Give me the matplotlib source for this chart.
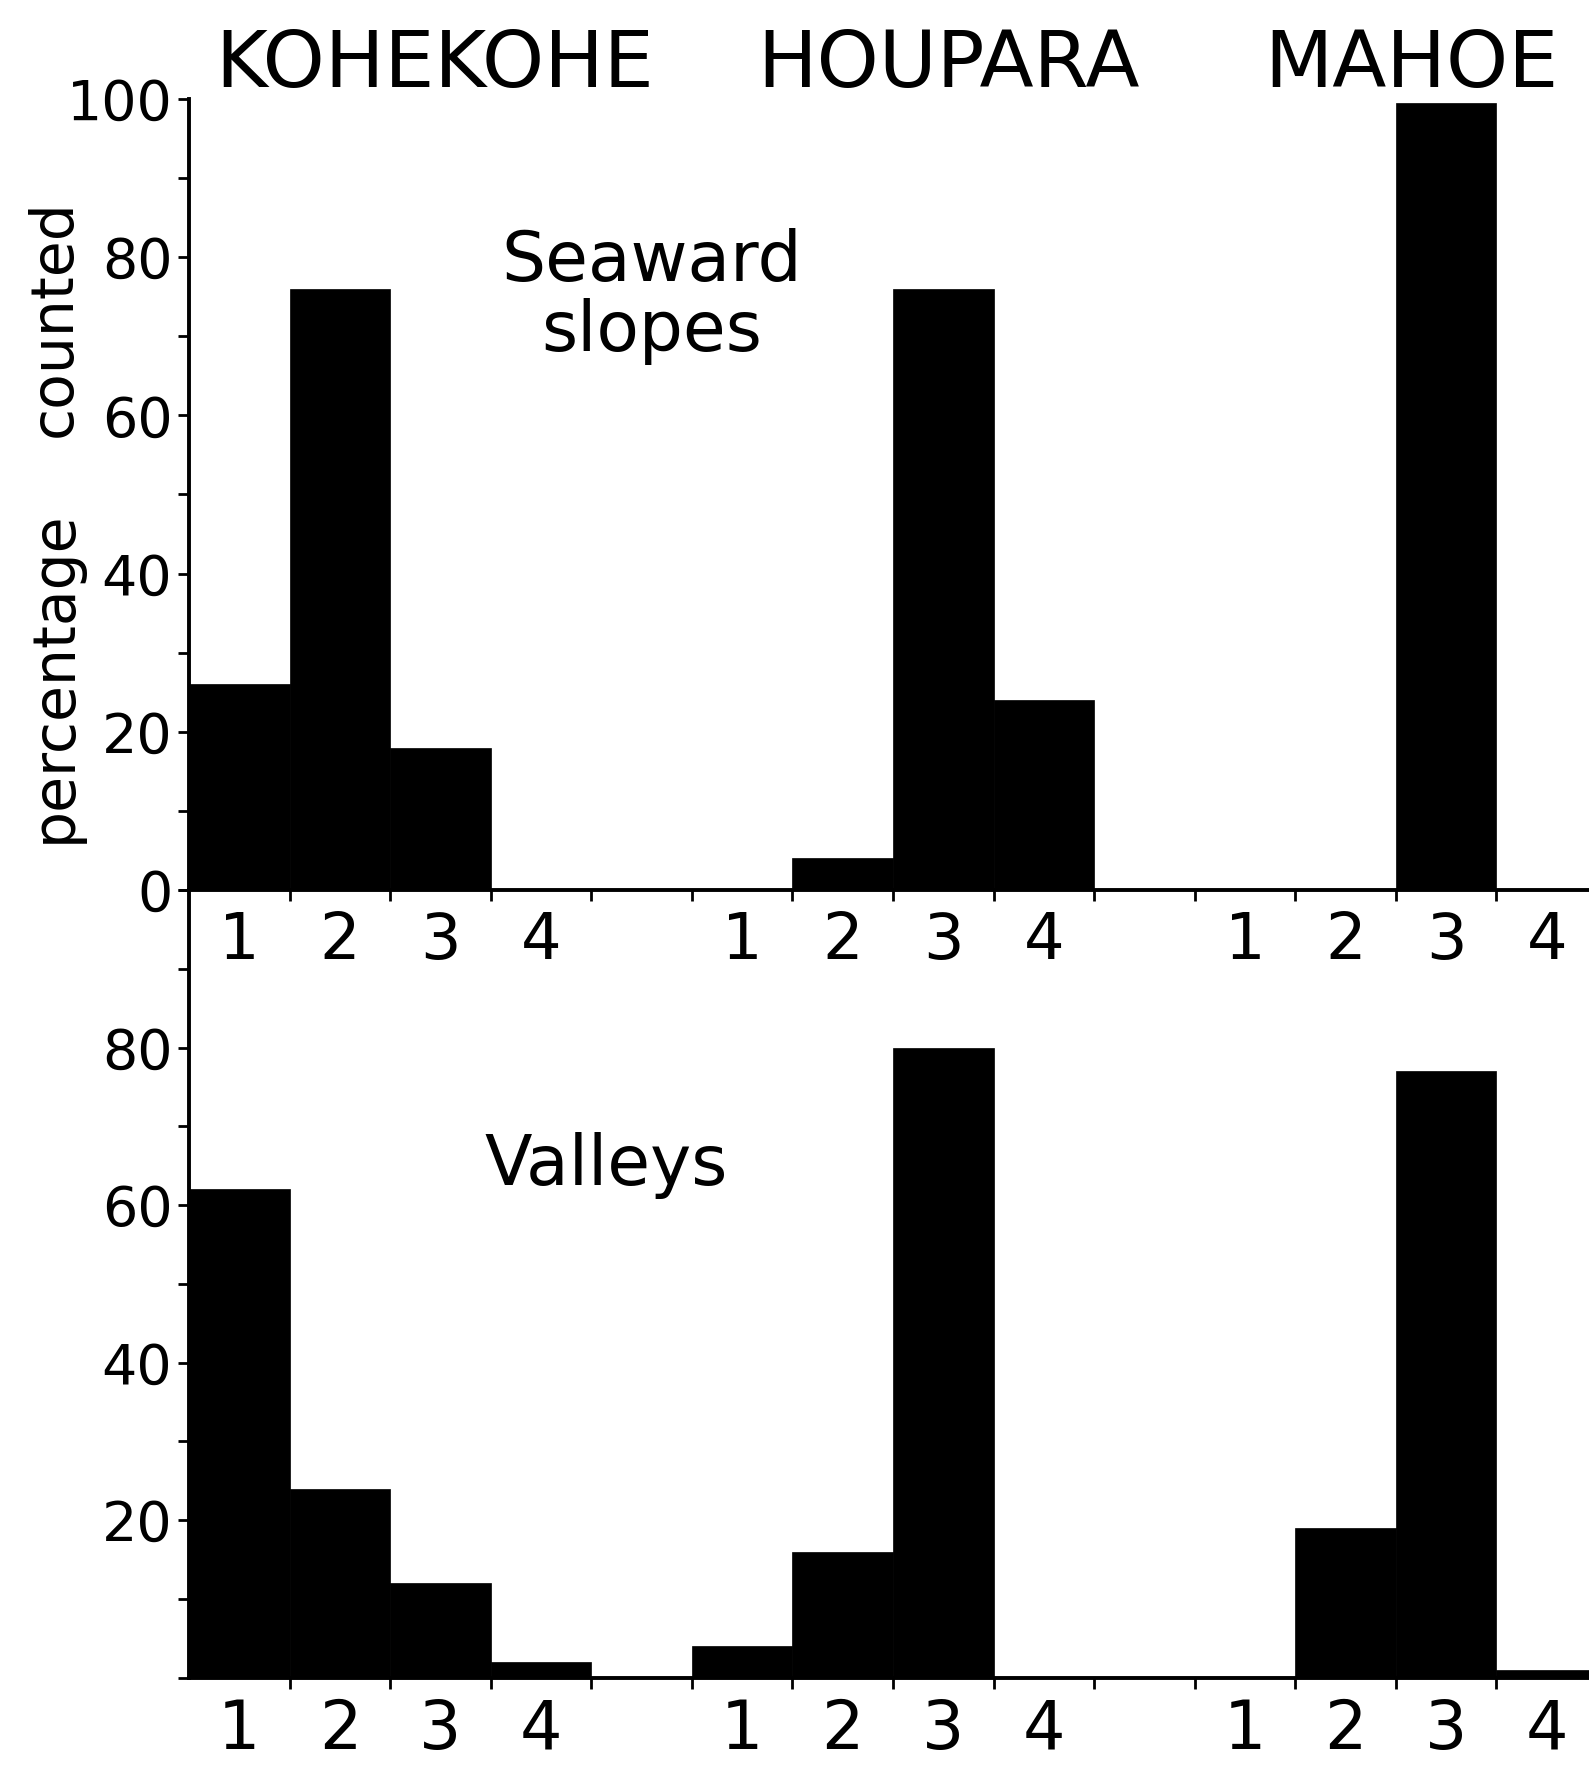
import numpy as np
import matplotlib.pyplot as plt

# data (percentage counted per class)
sites = ["KOHEKOHE", "HOUPARA", "MAHOE"]
classes = ["1", "2", "3", "4"]
seaward_kohekohe = [26, 76, 18, 0]
seaward_houpara = [0, 4, 76, 24]
seaward_mahoe = [0, 0, 99.5, 0]
valley_kohekohe = [62, 24, 12, 2]
valley_houpara = [4, 16, 80, 0]
valley_mahoe = [0, 19, 77, 1]

seaward = [seaward_kohekohe, seaward_houpara, seaward_mahoe]
valleys = [valley_kohekohe, valley_houpara, valley_mahoe]

plt.rcParams['font.family'] = ['DejaVu Sans']

fig = plt.figure(figsize=(15.89, 17.66), dpi=100)
left = 189 / 1589
ax_bot = fig.add_axes([left, 0.050, 1 - left, 0.446])
ax_top = fig.add_axes([left, 0.496, 1 - left, 0.448])
ax_bot.patch.set_visible(False)
ax_top.patch.set_visible(False)

xmax = 13.92


def draw_panel(ax, groups, label_size):
    # each site takes 4 slots, one empty slot between sites
    for g, vals in enumerate(groups):
        x = np.arange(4) + g * 5
        ax.bar(x, vals, width=1.0, align='edge', color='black', edgecolor='black', linewidth=0.5)
    ax.set_xlim(0, xmax)
    ax.set_ylim(0, 100)
    for s in ['top', 'right']:
        ax.spines[s].set_visible(False)
    ax.spines['left'].set_linewidth(2.8)
    ax.spines['bottom'].set_linewidth(2.8)
    ax.set_xticks(np.arange(1, 14))
    ax.set_xticklabels([])
    ax.tick_params(axis='x', which='major', direction='out', length=8, width=2)
    centers = np.concatenate([np.arange(4) + g * 5 + 0.5 for g in range(3)])
    ax.set_xticks(centers, minor=True)
    ax.set_xticklabels(classes * 3, minor=True, fontsize=label_size)
    ax.tick_params(axis='x', which='minor', length=0, pad=14)
    ax.set_yticks(np.arange(0, 101, 10))
    ax.tick_params(axis='y', direction='out', length=8, width=2, labelsize=40, pad=4)


draw_panel(ax_top, seaward, 46)
draw_panel(ax_bot, valleys, 48)

ax_top.set_yticklabels([str(v) if v % 20 == 0 else '' for v in range(0, 101, 10)])
ax_bot.set_yticklabels([str(v) if (v % 20 == 0 and 0 < v < 100) else '' for v in range(0, 101, 10)])

# site names above the top panel
title_offsets = [2.44, 7.55, 12.15]
for name, xo in zip(sites, title_offsets):
    ax_top.text(xo, 1.043, name, transform=ax_top.get_xaxis_transform(),
                ha='center', va='center', fontsize=57)

ax_top.text(4.6, 75, "Seaward\nslopes", ha='center', va='center', fontsize=50,
            linespacing=1.05)
ax_bot.text(4.15, 65, "Valleys", ha='center', va='center', fontsize=50)

fig.text(0.034, 0.82, "counted", rotation=90, ha='center', va='center', fontsize=42)
fig.text(0.034, 0.617, "percentage", rotation=90, ha='center', va='center', fontsize=42)

fig.savefig("out.png", dpi=100, facecolor='white')
